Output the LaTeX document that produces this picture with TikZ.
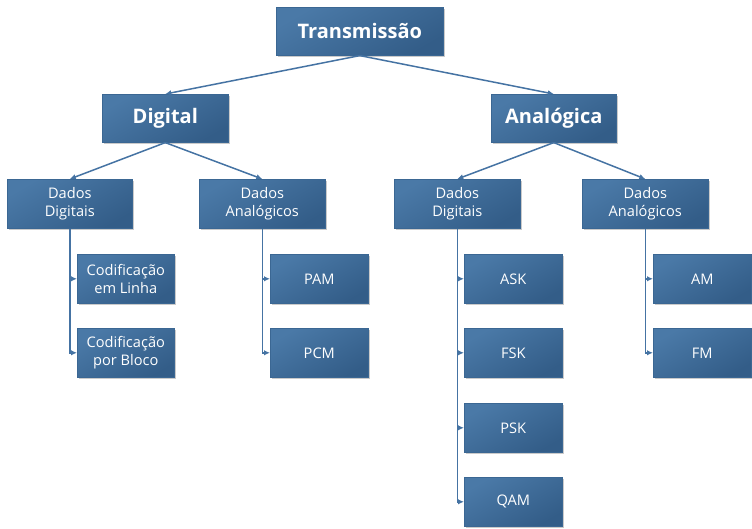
\documentclass[tikz,border=0pt]{standalone}
\usepackage{fontspec}
\setmainfont{Open Sans}
\usetikzlibrary{arrows.meta,shadows}
\definecolor{boxtop}{HTML}{4A79A7}
\definecolor{boxbot}{HTML}{335D88}
\definecolor{boxline}{HTML}{3B6793}
\definecolor{conn}{HTML}{4573A3}
\tikzset{
  box/.style={draw=boxline, line width=0.6pt, top color=boxtop, bottom color=boxbot, shading angle=30,
    text=white, align=center, inner sep=0pt, anchor=north west,
    drop shadow={shadow xshift=1.2pt, shadow yshift=-1.2pt, opacity=0.35, fill=black!60}},
  conn/.style={draw=conn, line width=1.5pt, -{Latex[length=6pt,width=5.5pt]}},
  big/.style={font=\fontsize{20}{24}\selectfont\bfseries},
  small/.style={font=\fontsize{14.6}{18.5}\selectfont},
}
\begin{document}
\begin{tikzpicture}[x=1pt,y=-1pt]
\useasboundingbox (0,0) rectangle (752,528);
% level 0
\node[box,big,minimum width=167pt,minimum height=48pt] (tr) at (276,7) {Transmissão};
% level 1
\node[box,big,minimum width=126pt,minimum height=48pt] (dg) at (102,94) {Digital};
\node[box,big,minimum width=125pt,minimum height=48pt] (an) at (491,94) {Analógica};
% level 2
\node[box,small,minimum width=125pt,minimum height=49pt] (dd1) at (7,179) {Dados\\Digitais};
\node[box,small,minimum width=126pt,minimum height=49pt] (da1) at (199,179) {Dados\\Analógicos};
\node[box,small,minimum width=126pt,minimum height=49pt] (dd2) at (394,179) {Dados\\Digitais};
\node[box,small,minimum width=126pt,minimum height=49pt] (da2) at (582,179) {Dados\\Analógicos};
% level 3
\node[box,small,minimum width=97pt,minimum height=49pt] (cl) at (77,254) {Codificação\\em Linha};
\node[box,small,minimum width=97pt,minimum height=49pt] (cb) at (77,328) {Codificação\\por Bloco};
\node[box,small,minimum width=98pt,minimum height=49pt] (pam) at (270,254) {PAM};
\node[box,small,minimum width=98pt,minimum height=49pt] (pcm) at (270,328) {PCM};
\node[box,small,minimum width=98pt,minimum height=49pt] (ask) at (464,254) {ASK};
\node[box,small,minimum width=98pt,minimum height=49pt] (fsk) at (464,328) {FSK};
\node[box,small,minimum width=98pt,minimum height=49pt] (psk) at (464,403) {PSK};
\node[box,small,minimum width=98pt,minimum height=49pt] (qam) at (464,477) {QAM};
\node[box,small,minimum width=98pt,minimum height=49pt] (am) at (653,254) {AM};
\node[box,small,minimum width=98pt,minimum height=49pt] (fm) at (653,328) {FM};
% connectors
\draw[conn] (tr.south) -- (dg.north);
\draw[conn] (tr.south) -- (an.north);
\draw[conn] (dg.south) -- (dd1.north);
\draw[conn] (dg.south) -- (da1.north);
\draw[conn] (an.south) -- (dd2.north);
\draw[conn] (an.south) -- (da2.north);
\draw[conn] (dd1.south) |- (cl.west);
\draw[conn] (dd1.south) |- (cb.west);
\draw[conn] (da1.south) |- (pam.west);
\draw[conn] (da1.south) |- (pcm.west);
\draw[conn] (dd2.south) |- (ask.west);
\draw[conn] (dd2.south) |- (fsk.west);
\draw[conn] (dd2.south) |- (psk.west);
\draw[conn] (dd2.south) |- (qam.west);
\draw[conn] (da2.south) |- (am.west);
\draw[conn] (da2.south) |- (fm.west);
\end{tikzpicture}
\end{document}
